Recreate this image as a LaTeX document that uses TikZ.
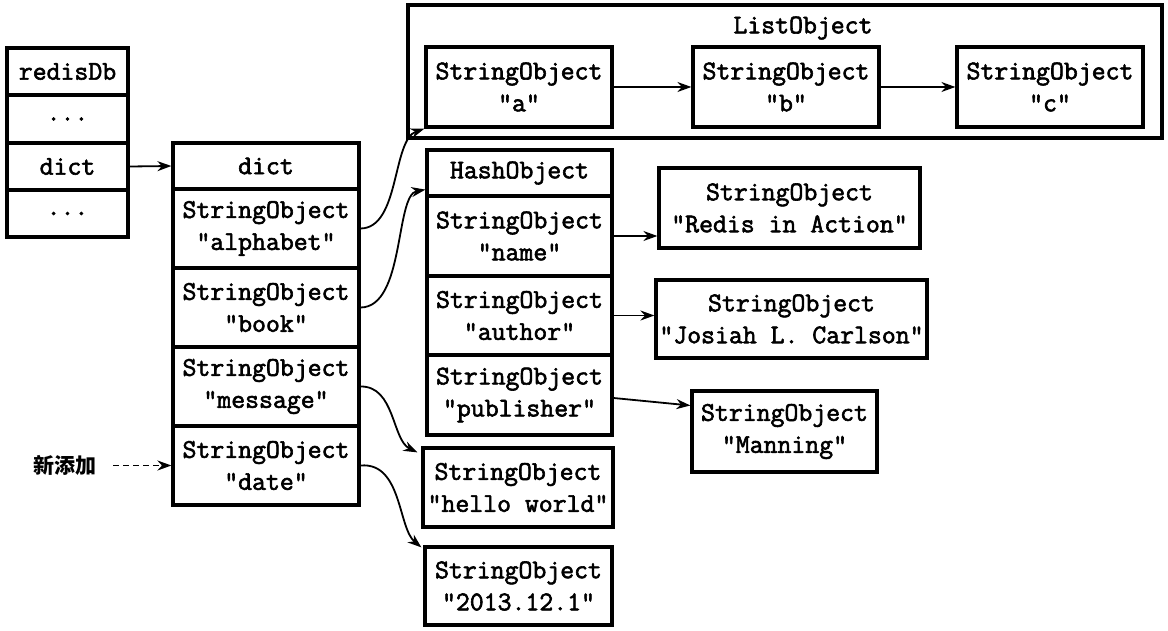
\documentclass[tikz,border=0pt]{standalone}
\usepackage{fontspec}
\newfontfamily\cour{Latin Modern Mono}[Ligatures=TeXOff,FakeBold=2.2]
\newfontfamily\cjkfont{Noto Sans CJK SC}
\usetikzlibrary{arrows.meta,calc}
\begin{document}
\begin{tikzpicture}[x=1pt,y=-1pt,
  cell/.style={draw,line width=3.2pt,inner sep=0pt,align=center,
    font=\cour\fontsize{27}{32}\selectfont},
  conn/.style={line width=1.8pt,-{Stealth[length=14pt,width=10pt]}},
  dconn/.style={conn,dash pattern=on 6pt off 4pt}]
\useasboundingbox (0,0) rectangle (1168,631);
% redisDb
\node[cell,minimum width=121pt,minimum height=47pt] (r0) at (67.5,71.5) {redisDb};
\node[cell,minimum width=121pt,minimum height=48pt] (r1) at (67.5,119) {...};
\node[cell,minimum width=121pt,minimum height=47pt] (r2) at (67.5,166.5) {dict};
\node[cell,minimum width=121pt,minimum height=47pt] (r3) at (67.5,213.5) {...};
% dict
\node[cell,minimum width=186pt,minimum height=46pt] (d0) at (266,166) {dict};
\node[cell,minimum width=186pt,minimum height=79pt] (d1) at (266,228.5) {StringObject\\"alphabet"};
\node[cell,minimum width=186pt,minimum height=79pt] (d2) at (266,307.5) {StringObject\\"book"};
\node[cell,minimum width=186pt,minimum height=79pt] (d3) at (266,386.5) {StringObject\\"message"};
\node[cell,minimum width=186pt,minimum height=79pt] (d4) at (266,465.5) {StringObject\\"date"};
% list
\node[cell,minimum width=754pt,minimum height=133pt] (lst) at (785,71.5) {};
\node[font=\cour\fontsize{27}{32}\selectfont,inner sep=0pt] (lt) at (803,28) {ListObject};
\node[cell,minimum width=186pt,minimum height=80pt] (la) at (519,87) {StringObject\\"a"};
\node[cell,minimum width=186pt,minimum height=80pt] (lb) at (786,87) {StringObject\\"b"};
\node[cell,minimum width=186pt,minimum height=80pt] (lc) at (1050,87) {StringObject\\"c"};
% hash
\node[cell,minimum width=185pt,minimum height=46pt] (h0) at (519.5,173) {HashObject};
\node[cell,minimum width=185pt,minimum height=80pt] (h1) at (519.5,236) {StringObject\\"name"};
\node[cell,minimum width=185pt,minimum height=79pt] (h2) at (519.5,315.5) {StringObject\\"author"};
\node[cell,minimum width=185pt,minimum height=80pt] (h3) at (519.5,395) {StringObject\\"publisher"};
% values
\node[cell,minimum width=261pt,minimum height=80pt] (vn) at (789.5,208) {StringObject\\"Redis in Action"};
\node[cell,minimum width=271pt,minimum height=78pt] (va) at (791.5,319) {StringObject\\"Josiah L. Carlson"};
\node[cell,minimum width=185pt,minimum height=81pt] (vp) at (784.5,431.5) {StringObject\\"Manning"};
\node[cell,minimum width=190pt,minimum height=79pt] (vm) at (518,487.5) {StringObject\\"hello world"};
\node[cell,minimum width=187pt,minimum height=78pt] (vd) at (518.5,586) {StringObject\\"2013.12.1"};
% new label
\node[font=\cjkfont\fontsize{21}{25}\selectfont\bfseries,inner sep=0pt] (new) at (65,465) {新添加};
\coordinate (newe) at (113,465.5);
% connectors
\draw[conn] (r2.east) -- (d0.west);
\draw[conn] (la.east) -- (lb.west);
\draw[conn] (lb.east) -- (lc.west);
\draw[conn] (d1.east) .. controls (400,228) and (392,140) .. (la.south west);
\draw[conn] (d2.east) .. controls (405,307) and (395,195) .. ($(h0.south west)+(0,-8)$);
\draw[conn] (d3.east) .. controls (395,386) and (392,440) .. ($(vm.north west)+(-4,6)$);
\draw[conn] (d4.east) .. controls (402,462) and (398,528) .. ($(vd.north west)+(-2,2)$);
\draw[conn] (h1.east) -- (vn.west |- h1.east);
\draw[conn] (h2.east) -- (va.west |- h2.east);
\draw[conn] ([yshift=-3pt]h3.east) -- ([yshift=26pt]vp.west);
\draw[dconn] (newe) -- (d4.west);
\end{tikzpicture}
\end{document}
